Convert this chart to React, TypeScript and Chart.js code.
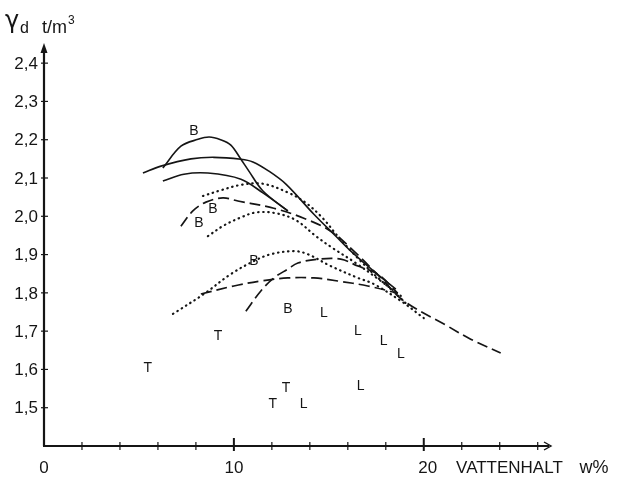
import { useEffect, useRef } from 'react';
import { Chart, registerables } from 'chart.js';

Chart.register(...registerables);

// ---- axes ----
const xTickValues = [2, 4, 6, 8, 10, 12, 14, 16, 18, 20, 22, 24, 26];
const xLabelValues = [0, 10, 20];
const yTickValues = [1.5, 1.6, 1.7, 1.8, 1.9, 2.0, 2.1, 2.2, 2.3, 2.4];
const xAxisTitle = 'VATTENHALT';
const xAxisUnit = 'w%';

// ---- compaction curves (w %, γd t/m³) ----
// solid, tall peaked curve (B)
const peakW = [6.26, 7.21, 8.11, 8.7, 9.3, 9.84, 10.37, 10.79, 11.53, 12.84];
const peakV = [2.126, 2.183, 2.201, 2.207, 2.2, 2.186, 2.149, 2.118, 2.066, 2.014];
// solid, long flat curve
const solidLongW = [5.21, 6.16, 7.74, 8.95, 10.37, 11.0, 11.84, 12.74, 14.2, 15.37, 16.16, 17.47, 18.53];
const solidLongV = [2.113, 2.131, 2.15, 2.154, 2.149, 2.142, 2.118, 2.084, 2.006, 1.948, 1.909, 1.852, 1.81];
// solid, lower curve
const solidLowW = [6.26, 7.37, 8.63, 10.37, 11.53, 12.84];
const solidLowV = [2.092, 2.11, 2.113, 2.097, 2.061, 2.014];
// dotted, upper
const dotUpW = [8.37, 9.32, 10.37, 11.53, 12.89, 13.79, 14.68, 15.47, 16.42, 17.37, 18.26, 19.05];
const dotUpV = [2.053, 2.068, 2.082, 2.085, 2.061, 2.035, 1.995, 1.948, 1.896, 1.849, 1.81, 1.773];
// dotted, second
const dotMidW = [8.63, 9.47, 10.37, 11.16, 12.21, 13.26, 14.32, 15.2, 16.42, 17.74, 18.79];
const dotMidV = [1.948, 1.976, 1.997, 2.01, 2.008, 1.99, 1.948, 1.917, 1.878, 1.831, 1.792];
// dotted, lower (B)
const dotLowW = [6.79, 8.42, 9.84, 11.05, 11.95, 13.16, 13.89, 15.1, 16.53, 17.37, 18.79, 20.0];
const dotLowV = [1.745, 1.797, 1.849, 1.883, 1.901, 1.909, 1.901, 1.87, 1.839, 1.823, 1.779, 1.734];
// dashed, long
const dashLongW = [7.21, 7.84, 8.53, 9.42, 10.21, 12.1, 13.68, 15.1, 16.32, 17.74, 18.95, 21.26, 22.47, 24.05];
const dashLongV = [1.974, 2.014, 2.037, 2.048, 2.04, 2.021, 1.995, 1.961, 1.909, 1.839, 1.779, 1.713, 1.679, 1.643];
// dashed, flat low
const dashFlatW = [8.26, 10.0, 11.42, 12.84, 14.21, 15.47, 17.05, 18.63];
const dashFlatV = [1.797, 1.818, 1.831, 1.839, 1.839, 1.831, 1.818, 1.799];
// dashed, steep rising
const dashSteepW = [10.63, 11.42, 12.1, 12.84, 13.37, 14.42, 15.63, 16.53, 17.58, 18.63];
const dashSteepV = [1.752, 1.805, 1.839, 1.862, 1.878, 1.888, 1.888, 1.87, 1.849, 1.799];

// ---- single letter markers ----
const bW = [7.89, 8.89, 8.16, 11.05, 12.84];
const bV = [2.222, 2.019, 1.982, 1.883, 1.758];
const tW = [5.47, 9.16, 12.05, 12.74];
const tV = [1.604, 1.687, 1.51, 1.551];
const lW = [14.74, 16.53, 17.89, 18.79, 16.68, 13.68];
const lV = [1.747, 1.7, 1.674, 1.64, 1.557, 1.51];

const INK = '#151515';

const pts = (w: number[], v: number[]) => w.map((x, i) => ({ x, y: v[i] }));

const base = {
  borderColor: INK,
  pointRadius: 0,
  tension: 0.35,
  fill: false,
};
const solid = (w: number[], v: number[]) => ({
  ...base,
  data: pts(w, v),
  borderWidth: 1.6,
  borderDash: [] as number[],
});
const dotted = (w: number[], v: number[]) => ({
  ...base,
  data: pts(w, v),
  borderWidth: 2.2,
  borderCapStyle: 'round' as const,
  borderDash: [0.5, 4.6],
});
const dashed = (w: number[], v: number[]) => ({
  ...base,
  data: pts(w, v),
  borderWidth: 1.7,
  borderDash: [11, 5],
});

const decor = {
  id: 'decor',
  afterDatasetsDraw(chart: any) {
    const { ctx } = chart;
    const x = chart.scales.x;
    const y = chart.scales.y;
    const x0 = x.getPixelForValue(0);
    const y0 = y.getPixelForValue(1.4);
    const xEnd = x.getPixelForValue(x.max);
    const yTop = y.getPixelForValue(y.max);
    ctx.save();
    ctx.strokeStyle = INK;
    ctx.fillStyle = INK;
    // axis lines
    ctx.lineWidth = 2.2;
    ctx.beginPath();
    ctx.moveTo(x0, y0);
    ctx.lineTo(x0, yTop + 4);
    ctx.moveTo(x0 - 1, y0);
    ctx.lineTo(xEnd - 2, y0);
    ctx.stroke();
    // y arrow
    ctx.beginPath();
    ctx.moveTo(x0, yTop - 1);
    ctx.lineTo(x0 - 3.5, yTop + 9);
    ctx.lineTo(x0 + 3.5, yTop + 9);
    ctx.closePath();
    ctx.fill();
    // x arrow (open)
    ctx.lineWidth = 1.4;
    ctx.beginPath();
    ctx.moveTo(xEnd - 7, y0 - 4);
    ctx.lineTo(xEnd, y0);
    ctx.lineTo(xEnd - 7, y0 + 4);
    ctx.stroke();
    // ticks
    xTickValues.forEach((v) => {
      const px = x.getPixelForValue(v);
      const major = xLabelValues.includes(v);
      ctx.beginPath();
      ctx.moveTo(px, y0 - (major ? 8 : 4));
      ctx.lineTo(px, y0 + (major ? 5 : 4));
      ctx.lineWidth = major ? 2 : 1.2;
      ctx.stroke();
    });
    ctx.lineWidth = 1.2;
    yTickValues.forEach((v) => {
      const py = y.getPixelForValue(v);
      ctx.beginPath();
      ctx.moveTo(x0 - 3, py);
      ctx.lineTo(x0 + 4, py);
      ctx.stroke();
    });
    // y tick labels
    ctx.font = '17px "Liberation Sans"';
    ctx.textAlign = 'right';
    ctx.textBaseline = 'middle';
    yTickValues.forEach((v) => {
      const py = y.getPixelForValue(v);
      ctx.fillText(v.toFixed(1).replace('.', ','), x0 - 6, py + 1);
    });
    // x tick labels
    ctx.textAlign = 'center';
    const ly = y0 + 22;
    xLabelValues.forEach((v) => {
      ctx.fillText(String(v), x.getPixelForValue(v) + (v === 20 ? 4 : 0), ly);
    });
    ctx.textAlign = 'left';
    ctx.fillText(xAxisTitle, x.getPixelForValue(21.7), ly);
    ctx.font = '18px "Liberation Sans"';
    ctx.fillText(xAxisUnit, x.getPixelForValue(28.2), ly);
    // y axis title
    ctx.textBaseline = 'alphabetic';
    ctx.font = '24px "DejaVu Sans"';
    ctx.fillText('γ', 5, 28);
    ctx.font = '16px "Liberation Sans"';
    ctx.fillText('d', 20, 33);
    ctx.font = '18px "Liberation Sans"';
    ctx.fillText('t/m', 42, 33);
    const tw = ctx.measureText('t/m').width;
    ctx.font = '12px "Liberation Sans"';
    ctx.fillText('3', 42 + tw + 1, 24);
    // letter markers
    ctx.font = '14px "Liberation Sans"';
    ctx.textAlign = 'center';
    ctx.textBaseline = 'middle';
    const put = (w: number[], v: number[], s: string) =>
      w.forEach((wx, i) => ctx.fillText(s, x.getPixelForValue(wx), y.getPixelForValue(v[i])));
    put(bW, bV, 'B');
    put(tW, tV, 'T');
    put(lW, lV, 'L');
    ctx.restore();
  },
};

export default function App() {
  const ref = useRef<HTMLCanvasElement | null>(null);
  useEffect(() => {
    if (!ref.current) return;
    const chart = new Chart(ref.current, {
      type: 'line',
      data: {
        datasets: [
          solid(peakW, peakV),
          solid(solidLongW, solidLongV),
          solid(solidLowW, solidLowV),
          dotted(dotUpW, dotUpV),
          dotted(dotMidW, dotMidV),
          dotted(dotLowW, dotLowV),
          dashed(dashLongW, dashLongV),
          dashed(dashFlatW, dashFlatV),
          dashed(dashSteepW, dashSteepV),
        ] as any,
      },
      options: {
        responsive: false,
        animation: false,
        devicePixelRatio: 1,
        layout: { padding: { top: 44, right: 66, left: 0, bottom: 0 } },
        plugins: { legend: { display: false }, tooltip: { enabled: false } },
        scales: {
          x: {
            type: 'linear',
            min: 0,
            max: 26.7,
            grid: { display: false },
            border: { display: false },
            ticks: { display: false },
            afterFit: (s: any) => { s.height = 38; },
          },
          y: {
            type: 'linear',
            min: 1.4,
            max: 2.45,
            grid: { display: false },
            border: { display: false },
            ticks: { display: false },
            afterFit: (s: any) => { s.width = 44; },
          },
        },
      },
      plugins: [decor],
    });
    return () => chart.destroy();
  }, []);
  return (
    <div style={{ position: 'fixed', left: 0, top: 0, width: 617, height: 484, background: '#fff' }}>
      <canvas ref={ref} width={617} height={484} style={{ display: 'block' }} />
    </div>
  );
}
